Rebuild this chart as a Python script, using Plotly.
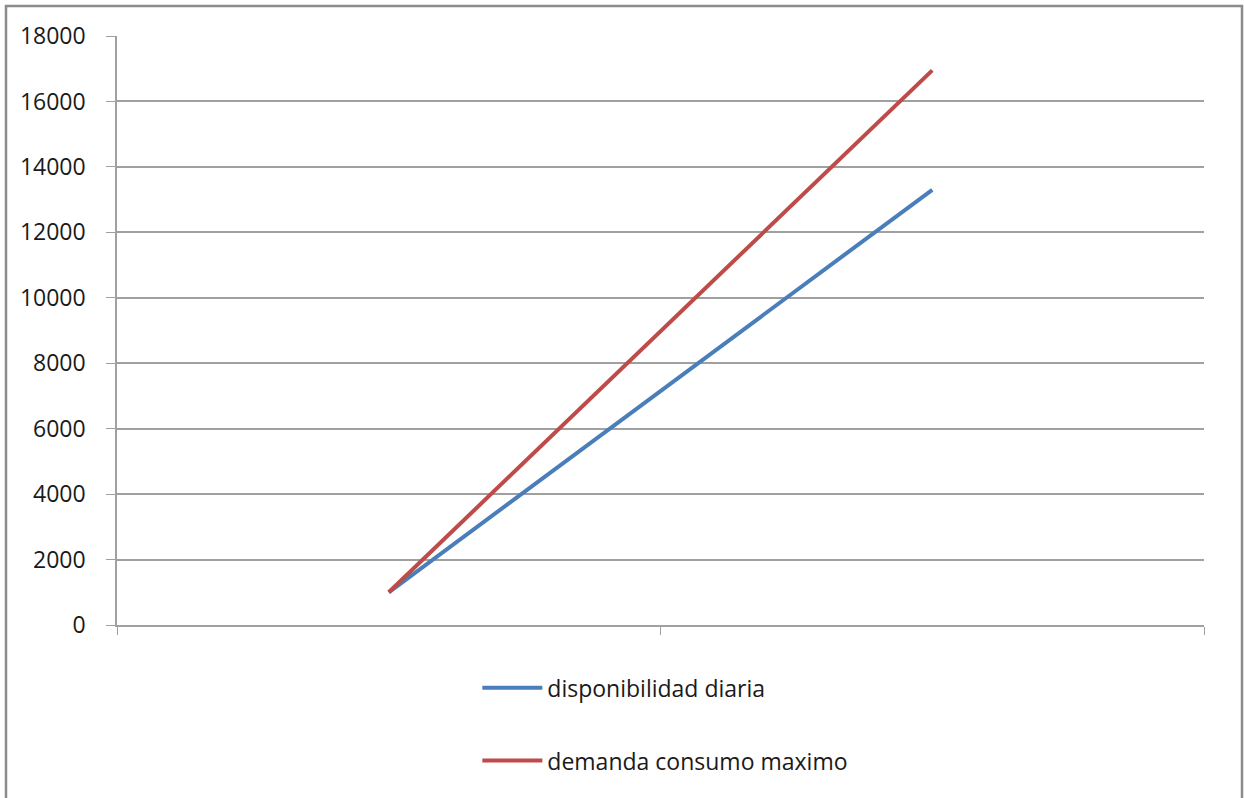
import plotly.graph_objects as go

categories = [0.5, 1.5]
disponibilidad = [1000, 13300]
demanda = [1000, 16950]
series_names = ["disponibilidad diaria", "demanda consumo maximo"]
y_ticks = [0, 2000, 4000, 6000, 8000, 10000, 12000, 14000, 16000, 18000]
y_tick_labels = [str(v) for v in y_ticks]

FONT = "Open Sans"
fig = go.Figure()
fig.add_trace(go.Scatter(x=categories, y=disponibilidad, mode="lines", name=series_names[0],
                         legendgroup="a", line=dict(color="#4A7EBB", width=4)))
fig.add_trace(go.Scatter(x=categories, y=demanda, mode="lines", name=series_names[1],
                         legendgroup="b", line=dict(color="#BE4B48", width=4)))

fig.update_layout(
    width=1245, height=798,
    margin=dict(l=117, r=41, t=36, b=173),
    paper_bgcolor="white", plot_bgcolor="white",
    font=dict(family=FONT, size=23, color="#1A1A1A"),
    xaxis=dict(range=[0, 2], tickvals=[0, 1, 2], ticktext=["", "", ""], ticks="outside",
               ticklen=8, tickcolor="#A0A0A0", showgrid=False, zeroline=False,
               showline=True, linecolor="#A0A0A0", linewidth=1.5, fixedrange=True),
    yaxis=dict(range=[0, 18000], tickvals=y_ticks, ticktext=y_tick_labels, ticks="outside", ticklen=9,
               tickcolor="#A0A0A0", showgrid=True, gridcolor="#A0A0A0", gridwidth=1.5,
               zeroline=False, showline=True, linecolor="#A0A0A0", linewidth=1.5,
               ticklabelstandoff=16, tickfont=dict(size=23)),
    showlegend=True,
    legend=dict(x=0.3315, xanchor="left", y=-0.07, yanchor="top", orientation="v",
                traceorder="grouped", tracegroupgap=40, itemwidth=60,
                font=dict(size=23), bgcolor="rgba(0,0,0,0)"),
    shapes=[dict(type="rect", xref="paper", yref="paper",
                 x0=(6 - 117) / 1087, x1=(1242 - 117) / 1087,
                 y0=(625 - 805) / 589, y1=(625 - 6) / 589,
                 line=dict(color="#8C8C8C", width=2.5), fillcolor="rgba(0,0,0,0)", layer="below")],
)

fig.write_html("out.html", config={"displayModeBar": False},
               post_script="document.body.style.margin='0';document.body.style.overflow='hidden';")
